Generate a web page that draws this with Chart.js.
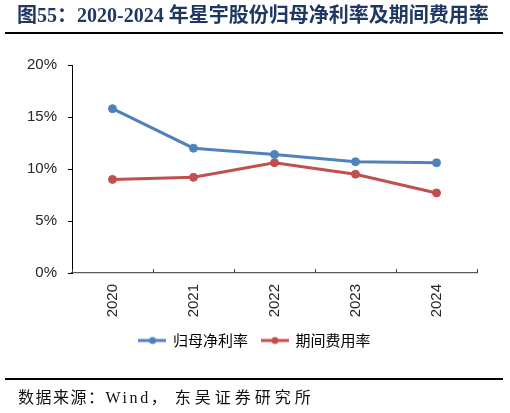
<!DOCTYPE html>
<html>
<head>
<meta charset="utf-8">
<script src="https://cdn.jsdelivr.net/npm/chart.js@4"></script>
<style>
  html, body { margin:0; padding:0; background:#fff; }
  body { width:510px; height:413px; position:relative; overflow:hidden; }
  #title { position:absolute; left:17px; top:3px; line-height:24px; font-weight:bold; font-size:20px;
           font-family:'Liberation Serif','Noto Sans CJK SC',serif; color:#1f3763; white-space:nowrap; }
  #rule1 { position:absolute; left:5px; top:32px; width:498px; height:2px; background:#000; }
  #wrap { position:absolute; left:0; top:0; width:510px; height:413px; }
  #rule2 { position:absolute; left:5px; top:378px; width:498px; height:2px; background:#000; }
  #source { position:absolute; left:18px; top:388px; line-height:20px; font-size:16px;
            font-family:'Liberation Serif','Noto Sans CJK SC',serif; color:#111; white-space:nowrap; }
</style>
</head>
<body>
<div id="wrap"><canvas id="c"></canvas></div>
<div id="title">图55：2020-2024 年星宇股份归母净利率及期间费用率</div>
<div id="rule1"></div>
<div id="rule2"></div>
<div id="source"><span style="letter-spacing:1.5px">数据来源：</span><span style="letter-spacing:2.6px">Wind</span><span style="letter-spacing:8px">，</span><span style="letter-spacing:4px">东吴证券研究所</span></div>
<script>
const years = ['2020', '2021', '2022', '2023', '2024'];
const netMargin = [15.8, 12.0, 11.4, 10.7, 10.6];
const expenseRatio = [9.0, 9.2, 10.6, 9.5, 7.7];
const seriesNames = ['归母净利率', '期间费用率'];
const yTicks = [0, 5, 10, 15, 20];

const BLUE = '#4f81bd';
const RED = '#c0504d';

function legendIcon(color) {
  const cv = document.createElement('canvas');
  const w = 28, h = 10;
  cv.width = w; cv.height = h;
  const g = cv.getContext('2d');
  g.strokeStyle = color; g.lineWidth = 3;
  g.beginPath(); g.moveTo(0, h / 2); g.lineTo(w, h / 2); g.stroke();
  g.fillStyle = color;
  g.beginPath(); g.arc(w / 2, h / 2, 3.5, 0, Math.PI * 2); g.fill();
  return cv;
}

const innerTicks = {
  id: 'innerTicks',
  afterDraw(chart) {
    const x = chart.scales.x, y = chart.scales.y;
    const ctx = chart.ctx;
    ctx.save();
    ctx.strokeStyle = '#404040';
    ctx.lineWidth = 1;
    for (let i = 0; i <= years.length; i++) {
      const px = Math.round(x.getPixelForValue(i - 0.5)) + 0.5;
      ctx.beginPath();
      ctx.moveTo(px, y.bottom);
      ctx.lineTo(px, y.bottom - 4);
      ctx.stroke();
    }
    ctx.restore();
  }
};

const icons = [legendIcon(BLUE), legendIcon(RED)];

Chart.defaults.font.family = "'Liberation Sans', Arial, sans-serif";
Chart.defaults.color = '#262626';

const chart = new Chart(document.getElementById('c'), {
  type: 'line',
  data: {
    labels: years,
    datasets: [
      { label: seriesNames[0], data: netMargin, borderColor: BLUE, backgroundColor: BLUE,
        borderWidth: 3, pointRadius: 4, pointBorderWidth: 1, pointStyle: 'circle', tension: 0,
        pointHoverRadius: 4 },
      { label: seriesNames[1], data: expenseRatio, borderColor: RED, backgroundColor: RED,
        borderWidth: 3, pointRadius: 4, pointBorderWidth: 1, pointStyle: 'circle', tension: 0,
        pointHoverRadius: 4 }
    ]
  },
  options: {
    responsive: true,
    maintainAspectRatio: false,
    animation: false,
    layout: { padding: { top: 65, left: 0, right: 0, bottom: 55 } },
    plugins: {
      tooltip: { enabled: false },
      legend: {
        position: 'bottom',
        labels: {
          usePointStyle: true,
          pointStyleWidth: 26,
          boxHeight: 10,
          padding: 14,
          font: { family: "'Noto Sans CJK SC', sans-serif", size: 15 },
          color: '#262626',
          generateLabels(ch) {
            return ch.data.datasets.map((ds, i) => ({
              text: ds.label, pointStyle: icons[i], fillStyle: ds.borderColor,
              strokeStyle: ds.borderColor, lineWidth: 0, hidden: false, datasetIndex: i
            }));
          }
        }
      }
    },
    scales: {
      x: {
        type: 'category',
        offset: true,
        grid: { display: false, drawTicks: false },
        border: { display: true, color: '#595959', width: 1.2 },
        ticks: { minRotation: 90, maxRotation: 90, padding: 11, font: { size: 15 }, color: '#262626' },
        afterFit(s) { s.height = 46; }
      },
      y: {
        min: 0, max: 20,
        afterBuildTicks(s) { s.ticks = yTicks.map(v => ({ value: v })); },
        grid: { display: true, drawOnChartArea: false, drawTicks: true, tickLength: 4, color: '#000' },
        border: { display: true, color: '#000', width: 1 },
        ticks: { padding: 11, font: { size: 15 }, color: '#262626', callback: v => v + '%' },
        afterFit(s) { s.width = 72; }
      },
      yRight: {
        position: 'right',
        display: true,
        grid: { display: false, drawTicks: false },
        border: { display: false },
        ticks: { display: false },
        afterFit(s) { s.width = 33; }
      }
    }
  },
  plugins: [innerTicks]
});
</script>
</body>
</html>
